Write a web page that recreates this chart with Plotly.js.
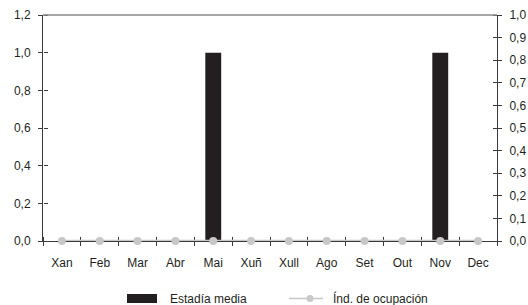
<!DOCTYPE html>
<html>
<head>
<meta charset="utf-8">
<script src="https://cdn.plot.ly/plotly-3.0.1.min.js"></script>
<style>html,body{margin:0;padding:0;background:#fff;}#chart{width:528px;height:305px;}</style>
</head>
<body>
<div id="chart"></div>
<script>
const months = ["Xan","Feb","Mar","Abr","Mai","Xuñ","Xull","Ago","Set","Out","Nov","Dec"];
const estadiaMedia = [0,0,0,0,1,0,0,0,0,0,1,0];
const indOcupacion = [0,0,0,0,0,0,0,0,0,0,0,0];
const seriesNames = ["Estadía media","Índ. de ocupación"];

const dark = "#231f20";
const lineGray = "#c8c8c8";
const axisCol = "#3a3a3a";

const traces = [
  {type:"bar", x:months, y:estadiaMedia, name:seriesNames[0], marker:{color:dark}, xaxis:"x", yaxis:"y", showlegend:false},
  // empty helper traces so the tick-only overlay axes are drawn
  {type:"scatter", mode:"markers", x:[], y:[], xaxis:"x", yaxis:"y3", showlegend:false, hoverinfo:"skip"},
  {type:"scatter", mode:"markers", x:[], y:[], xaxis:"x", yaxis:"y4", showlegend:false, hoverinfo:"skip"},
  {type:"scatter", mode:"lines+markers", x:months, y:indOcupacion, name:seriesNames[1],
   line:{color:lineGray, width:2.5}, marker:{color:lineGray, size:8}, xaxis:"x2", yaxis:"y2", cliponaxis:false, showlegend:false}
];

// pixel helpers for legend placement (plot area 43..497 x, 15..241 y)
const L=43, R=497, T=15, B=241;
const px = v => (v-L)/(R-L);
const py = v => (B-v)/(B-T);

const tickOnly = {showticklabels:false, showline:false, showgrid:false, zeroline:false, ticks:"outside", ticklen:4, tickcolor:axisCol};

const layout = {
  width:528, height:305,
  margin:{l:L, r:528-R, t:T, b:305-B, pad:0},
  paper_bgcolor:"#fff", plot_bgcolor:"#fff",
  separators:", ",
  font:{family:"Liberation Sans, Arial, sans-serif", size:12, color:dark},
  bargap:0.58,
  showlegend:false,
  xaxis:{type:"category", categoryorder:"array", categoryarray:months, range:[-0.5,11.5],
    showline:true, linecolor:axisCol, linewidth:1, ticks:"outside", ticklen:4, tickcolor:axisCol,
    tickson:"boundaries", showgrid:false, zeroline:false, ticklabelstandoff:11, layer:"below traces", fixedrange:true},
  xaxis2:Object.assign({type:"category", categoryorder:"array", categoryarray:months, range:[-0.5,11.5], overlaying:"x",
    anchor:"free", position:0, side:"top", tickson:"boundaries", layer:"below traces"}, tickOnly),
  yaxis:{range:[0,1.2], dtick:0.2, tickformat:".1f", showline:true, linecolor:axisCol, linewidth:1,
    ticks:"outside", ticklen:4, tickcolor:axisCol, showgrid:false, zeroline:false, ticklabelstandoff:5, layer:"below traces"},
  yaxis3:Object.assign({range:[0,1.2], dtick:0.2, overlaying:"y", anchor:"free", position:0, side:"right"}, tickOnly),
  yaxis2:{range:[0,1.0], dtick:0.1, tickformat:".1f", overlaying:"y", anchor:"x2", side:"right", showline:true, linecolor:axisCol, linewidth:1,
    ticks:"outside", ticklen:4, tickcolor:axisCol, showgrid:false, zeroline:false, ticklabelstandoff:5, layer:"below traces"},
  yaxis4:Object.assign({range:[0,1.0], dtick:0.1, overlaying:"y", anchor:"free", position:1, side:"left"}, tickOnly),
  shapes:[
    {type:"line", xref:"paper", yref:"paper", x0:0, x1:1, y0:1, y1:1, line:{color:"#8a8a8a", width:1.5}},
    {type:"rect", xref:"paper", yref:"paper", x0:px(127), x1:px(157), y0:py(303), y1:py(294), fillcolor:dark, line:{width:0}},
    {type:"line", xref:"paper", yref:"paper", x0:px(289), x1:px(323), y0:py(298.5), y1:py(298.5), line:{color:lineGray, width:1.5}},
    {type:"circle", xref:"paper", yref:"paper", x0:px(306.5), x1:px(313.5), y0:py(302), y1:py(295), fillcolor:lineGray, line:{width:0}}
  ],
  annotations:[
    {xref:"paper", yref:"paper", x:px(168), y:py(298.5), text:seriesNames[0], showarrow:false, xanchor:"left", yanchor:"middle", font:{size:12, color:dark}},
    {xref:"paper", yref:"paper", x:px(331), y:py(298.5), text:seriesNames[1], showarrow:false, xanchor:"left", yanchor:"middle", font:{size:12, color:dark}}
  ]
};

Plotly.newPlot("chart", traces, layout, {displayModeBar:false, staticPlot:true});
</script>
</body>
</html>
